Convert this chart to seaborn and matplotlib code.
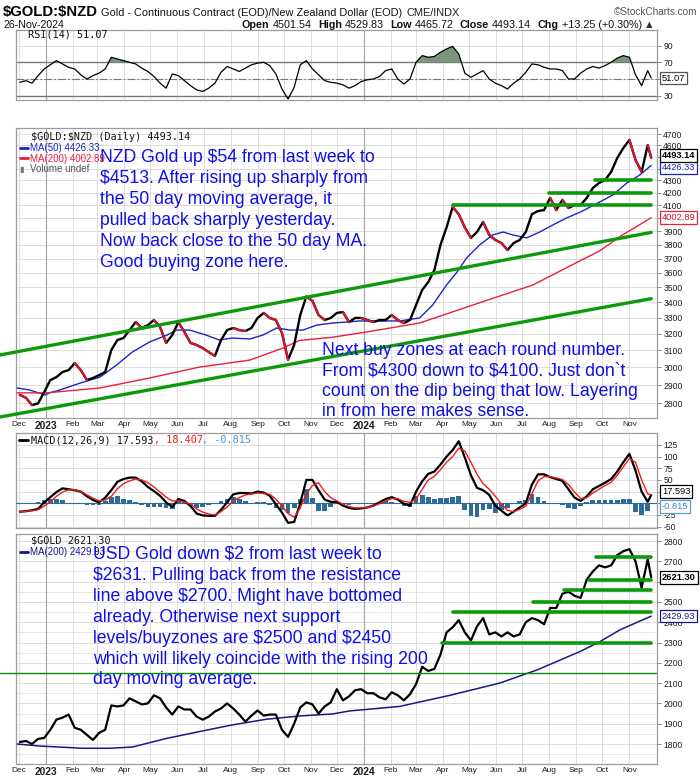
import numpy as np
import pandas as pd
import matplotlib
matplotlib.use("Agg")
import matplotlib.pyplot as plt
import matplotlib.ticker as mticker
import matplotlib.dates as mdates
from matplotlib import font_manager
import seaborn as sns

# ---------------- data ----------------
week_dates = list(pd.date_range("2022-12-02", periods=104, freq="7D")) + [pd.Timestamp("2024-11-26")]

nzd_close = [
    2846, 2830, 2790, 2800, 2862, 2928, 2945, 2974, 2985, 3025,
    2985, 2928, 2940, 2956, 2974, 3102, 3163, 3175, 3224, 3274,
    3237, 3255, 3287, 3243, 3145, 3193, 3274, 3212, 3145, 3133,
    3114, 3090, 3067, 3163, 3224, 3237, 3224, 3218, 3237, 3300,
    3332, 3300, 3287, 3206, 3045, 3133, 3319, 3440, 3410, 3319,
    3287, 3300, 3332, 3338, 3274, 3300, 3300, 3287, 3274, 3287,
    3287, 3319, 3287, 3268, 3287, 3383, 3483, 3536, 3619, 3798,
    3928, 4086, 4030, 3928, 3850, 3894, 3970, 3872, 3835, 3812,
    3761, 3812, 3835, 3894, 4030, 4054, 4062, 4158, 4062, 4142,
    4078, 4102, 4102, 4158, 4238, 4279, 4304, 4371, 4490, 4577,
    4649, 4473, 4371, 4603, 4493.14]

usd_close = [
    1810, 1815, 1800, 1825, 1830, 1870, 1920, 1930, 1945, 1880,
    1870, 1845, 1820, 1855, 1870, 1990, 1985, 1990, 2025, 2010,
    1995, 2000, 2040, 2025, 1980, 1945, 1985, 1970, 1970, 1935,
    1920, 1935, 1960, 1975, 2000, 1975, 1945, 1910, 1940, 1965,
    1940, 1945, 1945, 1870, 1835, 1900, 1980, 2005, 1995, 1950,
    1985, 2005, 2070, 2015, 2035, 2065, 2070, 2050, 2050, 2030,
    2020, 2055, 2040, 2015, 2045, 2095, 2180, 2160, 2170, 2240,
    2350, 2375, 2410, 2350, 2310, 2380, 2420, 2340, 2350, 2330,
    2350, 2330, 2340, 2400, 2420, 2410, 2390, 2470, 2470, 2540,
    2550, 2530, 2520, 2610, 2650, 2680, 2670, 2680, 2730, 2750,
    2760, 2700, 2570, 2710, 2621.30]

rsi_vals = [
    46, 48, 45, 54, 62, 67, 72, 68, 64, 62,
    55, 50, 54, 57, 62, 76, 74, 72, 70, 68,
    63, 59, 53, 45, 39, 56, 54, 48, 42, 37,
    35, 39, 45, 58, 65, 62, 59, 63, 67, 69,
    70, 66, 56, 38, 26, 40, 67, 72, 62, 55,
    48, 46, 45, 43, 39, 42, 47, 49, 50, 53,
    60, 62, 50, 44, 50, 70, 78, 76, 77, 82,
    86, 89, 80, 57, 52, 56, 60, 50, 45, 42,
    38, 45, 50, 58, 68, 67, 64, 62, 62, 60,
    50, 50, 57, 62, 65, 63, 66, 70, 75, 78,
    76, 55, 42, 60, 51.07]

macd_vals = [
    -18, -17, -15, -12, 2, 13, 24, 32, 30, 28,
    25, 15, 7, 2, 12, 28, 46, 52, 55, 55,
    47, 35, 26, 16, 2, -8, 9, 5, -6, -22,
    -26, -27, -27, -14, 2, 19, 22, 22, 21, 25,
    23, 16, -2, -20, -42, -40, 0, 50, 50, 28,
    8, 3, 3, -5, -10, -12, -11, -9, -5, 2,
    9, 13, 8, -1, -5, 25, 47, 63, 68, 83,
    100, 114, 133, 98, 60, 33, 28, 18, -5, -16,
    -26, -18, -9, 0, 40, 62, 62, 56, 52, 48,
    30, 12, 5, 15, 30, 37, 44, 52, 68, 88,
    106, 70, 25, 3, 17.593]

signal_vals = [
    -18, -17, -16, -14, -6, 3, 15, 24, 29, 29,
    25, 18, 11, 5, 7, 15, 31, 42, 48, 52,
    50, 44, 35, 24, 13, 5, 5, 3, -2, -12,
    -19, -23, -25, -18, -8, 5, 12, 18, 20, 22,
    21, 19, 9, -6, -22, -30, -10, 20, 38, 44,
    25, 12, 5, -2, -7, -10, -10, -9, -6, -1,
    5, 10, 10, 4, 2, 9, 30, 50, 58, 72,
    88, 100, 118, 112, 88, 62, 42, 30, 15, -2,
    -15, -18, -13, -6, 20, 48, 57, 57, 54, 51,
    40, 24, 10, 12, 22, 30, 38, 45, 60, 78,
    96, 88, 50, 20, 18.407]
hist_last = -0.815

nzd_ma50_dates = [
    "2022-11-29", "2022-12-13", "2022-12-31", "2023-01-05", "2023-01-17", "2023-02-09",
    "2023-03-04", "2023-03-23", "2023-04-10", "2023-04-30", "2023-05-20", "2023-05-31",
    "2023-06-15", "2023-07-04", "2023-07-19", "2023-08-03", "2023-08-23", "2023-09-07",
    "2023-09-23", "2023-10-08", "2023-10-23", "2023-11-08", "2023-11-26", "2023-12-12",
    "2023-12-27", "2024-02-11", "2024-03-05", "2024-03-20", "2024-04-05", "2024-04-17",
    "2024-04-28", "2024-05-13", "2024-05-28", "2024-06-09", "2024-06-20", "2024-07-06",
    "2024-07-21", "2024-08-05", "2024-08-21", "2024-09-08", "2024-09-28", "2024-10-13",
    "2024-10-29", "2024-11-13", "2024-11-26"]
nzd_ma50 = [
    2884, 2873, 2846, 2857, 2873, 2911, 2945, 3014, 3090, 3151,
    3193, 3224, 3224, 3193, 3163, 3175, 3169, 3193, 3237, 3224,
    3224, 3255, 3268, 3274, 3281, 3281, 3300, 3383, 3516, 3605,
    3704, 3798, 3872, 3894, 3872, 3850, 3894, 3947, 4001, 4054,
    4126, 4182, 4279, 4346, 4426.33]

nzd_ma200_dates = [
    "2022-11-29", "2023-01-02", "2023-03-04", "2023-04-30", "2023-06-26", "2023-08-23",
    "2023-09-30", "2023-10-19", "2023-11-26", "2024-01-04", "2024-03-05", "2024-05-05",
    "2024-07-13", "2024-09-05", "2024-09-28", "2024-10-21", "2024-11-13", "2024-11-26"]
nzd_ma200 = [2857, 2857, 2884, 2940, 3002, 3043, 3114, 3160, 3180, 3212,
             3268, 3383, 3516, 3683, 3755, 3860, 3950, 4002.89]

usd_ma200_dates = [
    "2022-11-29", "2022-12-25", "2023-02-12", "2023-03-15", "2023-04-10", "2023-05-20",
    "2023-06-26", "2023-08-03", "2023-09-11", "2023-10-19", "2023-11-26", "2023-12-16",
    "2024-02-11", "2024-04-09", "2024-06-05", "2024-07-18", "2024-09-05", "2024-09-28",
    "2024-10-21", "2024-11-26"]
usd_ma200 = [1800, 1790, 1779, 1779, 1785, 1828, 1861, 1894, 1922, 1938,
             1948, 1963, 1985, 2040, 2100, 2165, 2255, 2304, 2362, 2429.93]

channel_dates = ["2022-11-09", "2024-11-26"]
channel_low = [2727, 3425]
channel_high = [3073, 3891]
nzd_levels = [4100, 4200, 4300]
nzd_level_starts = ["2024-04-12", "2024-08-01", "2024-09-22"]
usd_levels = [2300, 2450, 2500, 2560, 2610, 2720]
usd_level_starts = ["2024-03-31", "2024-04-12", "2024-07-13", "2024-08-18", "2024-09-16", "2024-09-24"]
level_end = "2024-11-26"
usd_old_line = 2150
usd_old_line_dates = ["2022-11-09", "2024-12-02"]

nzd_ticks = list(range(2800, 4800, 100))
nzd_hidden = [4000, 4400, 4500]
usd_ticks = list(range(1800, 2900, 100))
usd_hidden = [2600]
macd_ticks = [-50, -25, 0, 25, 50, 75, 100, 125]
macd_hidden = [0, 25]
rsi_ticks = [30, 50, 70, 90]
rsi_hidden = [50]

nzd_note = ["NZD Gold up $54 from last week to",
            "$4513. After rising up sharply from",
            "the 50 day moving average, it",
            "pulled back sharply yesterday.",
            "Now back close to the 50 day MA.",
            "Good buying zone here."]
nzd_note2 = ["Next buy zones at each round number.",
             "From $4300 down to $4100. Just don`t",
             "count on the dip being that low. Layering",
             "in from here makes sense."]
usd_note = ["USD Gold down $2 from last week to",
            "$2631. Pulling back from the resistance",
            "line above $2700. Might have bottomed",
            "already. Otherwise next support",
            "levels/buyzones are $2500 and $2450",
            "which will likely coincide with the rising 200",
            "day moving average."]

# ---------------- style ----------------
sns.set_theme(style="white")
names = {f.name for f in font_manager.fontManager.ttflist}
NARROW_OK = "Liberation Sans Narrow" in names
NARROW = (["Liberation Sans Narrow", "Liberation Sans", "DejaVu Sans"] if NARROW_OK
          else ["Liberation Sans", "DejaVu Sans"])
NS = 1.0 if NARROW_OK else 0.86
SANS = ["Liberation Sans", "DejaVu Sans"]
MONO = ["DejaVu Sans Mono", "DejaVu Sans"]
plt.rcParams["font.family"] = SANS
plt.rcParams["text.parse_math"] = False

GREEN = "#0c9a0c"
BLUE_TXT = "#0f0fe6"
RED = "#dc1430"
MA50C = "#1a26c4"
NAVY = "#18188a"
HISTC = "#2d6b98"

W, H = 700, 780
L, R = 16, 657
XMIN = pd.Timestamp("2022-11-27 14:00")
XMAX = pd.Timestamp("2024-12-02 16:00")
month_starts = list(pd.date_range("2022-12-01", "2024-11-01", freq="MS"))
month_labels = [str(d.year) if d.month == 1 else d.strftime("%b") for d in month_starts]
year_starts = [pd.Timestamp("2023-01-01"), pd.Timestamp("2024-01-01")]

fig = plt.figure(figsize=(7, 7.8), dpi=100, facecolor="white")


def make_axes(y0, y1):
    return fig.add_axes([L / W, 1 - y1 / H, (R - L) / W, (y1 - y0) / H])


def fmt_hide(hidden):
    return mticker.FuncFormatter(lambda v, p: "" if any(abs(v - h) < 1e-6 for h in hidden) else f"{v:.0f}")


def finish(ax, show_x):
    ax.set_xlim(XMIN, XMAX)
    ax.set_xlabel("")
    ax.set_ylabel("")
    ax.set_axisbelow(True)
    for s in ax.spines.values():
        s.set_visible(True)
        s.set_color("#9c9c9c")
        s.set_linewidth(0.9)
    ax.yaxis.tick_right()
    ax.yaxis.set_minor_formatter(mticker.NullFormatter())
    ax.tick_params(axis="y", which="major", direction="out", length=3, width=0.7,
                   colors="#8a8a8a", labelcolor="#1e1e1e", labelsize=7.2 * NS, pad=1.5,
                   labelfontfamily=NARROW)
    ax.tick_params(axis="y", which="minor", length=0)
    ax.set_xticks(mdates.date2num(month_starts))
    if show_x:
        ax.set_xticklabels(month_labels, fontsize=7.0 * NS, family=NARROW, color="#1e1e1e")
        for t in ax.get_xticklabels():
            if t.get_text().isdigit():
                t.set_fontweight("bold")
                t.set_fontsize(8.6 * NS)
    else:
        ax.set_xticklabels([])
    ax.tick_params(axis="x", length=0, pad=2.0)
    ax.grid(True, which="major", color="#dcdcdc", lw=0.7)
    for d in year_starts:
        ax.axvline(d, color="#a9a9a9", lw=0.9, zorder=0.8)


def vbox(ax, y, text, ec, bold=False, tc="black", dy=0):
    ax.annotate(text, xy=(1, y), xycoords=ax.get_yaxis_transform(), xytext=(3.6, dy),
                textcoords="offset points", ha="left", va="center",
                fontsize=7.8 * NS, fontweight="bold" if bold else "normal", color=tc,
                family=NARROW, annotation_clip=False, zorder=40,
                bbox=dict(boxstyle="square,pad=0.2", fc="white", ec=ec, lw=0.9))


wk = pd.DataFrame({"date": week_dates, "nzd": nzd_close, "usd": usd_close,
                   "rsi": rsi_vals, "macd": macd_vals, "signal": signal_vals})
wk["hist"] = wk["macd"] - wk["signal"]
xnum = mdates.date2num(wk["date"])

# ---------------- RSI panel ----------------
ax_r = make_axes(30, 100)
sns.lineplot(data=wk, x="date", y="rsi", ax=ax_r, color="black", lw=0.9, estimator=None, zorder=4)
rs = np.array(rsi_vals, dtype=float)
ax_r.fill_between(xnum, rs, 70, where=rs >= 70, interpolate=True, color="#7c957c", lw=0, zorder=3)
ax_r.fill_between(xnum, rs, 30, where=rs <= 30, interpolate=True, color="#7c957c", lw=0, zorder=3)
ax_r.axhline(70, color="#777777", lw=1.0, zorder=2)
ax_r.axhline(30, color="#777777", lw=1.0, zorder=2)
ax_r.axhline(50, color="#777777", lw=0.8, ls=(0, (7, 2, 1.5, 2)), zorder=2)
ax_r.set_ylim(24.8, 108.7)
ax_r.set_yticks(rsi_ticks)
ax_r.yaxis.set_major_formatter(fmt_hide(rsi_hidden))
finish(ax_r, False)
vbox(ax_r, rsi_vals[-1], f"{rsi_vals[-1]:.2f}", "#555555")

# ---------------- NZD price panel ----------------
ax_p = make_axes(128, 418)
sns.lineplot(data=wk, x="date", y="nzd", ax=ax_p, color="black", lw=1.7, estimator=None, zorder=5)
for i in range(1, len(wk)):
    if nzd_close[i] < nzd_close[i - 1]:
        ax_p.plot(week_dates[i - 1:i + 1], nzd_close[i - 1:i + 1], color=RED, lw=1.5, zorder=5)
ma50 = pd.DataFrame({"date": pd.to_datetime(nzd_ma50_dates), "v": nzd_ma50})
ma200 = pd.DataFrame({"date": pd.to_datetime(nzd_ma200_dates), "v": nzd_ma200})
sns.lineplot(data=ma50, x="date", y="v", ax=ax_p, color=MA50C, lw=1.0, estimator=None, zorder=4)
sns.lineplot(data=ma200, x="date", y="v", ax=ax_p, color="#e8203c", lw=1.0, estimator=None, zorder=4)
cd = pd.to_datetime(channel_dates)
ax_p.plot(cd, channel_low, color=GREEN, lw=2.4, clip_on=False, zorder=6)
ax_p.plot(cd, channel_high, color=GREEN, lw=2.4, clip_on=False, zorder=6)
for lvl, st in zip(nzd_levels, nzd_level_starts):
    ax_p.plot([pd.Timestamp(st), pd.Timestamp(level_end)], [lvl, lvl], color=GREEN, lw=2.6, zorder=6)
ax_p.set_yscale("log")
ax_p.set_ylim(2722, 4757)
ax_p.set_yticks(nzd_ticks)
ax_p.yaxis.set_major_formatter(fmt_hide(nzd_hidden))
ax_p.yaxis.set_minor_locator(mticker.NullLocator())
finish(ax_p, True)
vbox(ax_p, nzd_ma200[-1], f"{nzd_ma200[-1]:.2f}", "#e8203c", tc="#d01030")
vbox(ax_p, nzd_ma50[-1], f"{nzd_ma50[-1]:.2f}", MA50C, tc=MA50C, dy=-1.5)
vbox(ax_p, nzd_close[-1], f"{nzd_close[-1]:.2f}", "black", bold=True, dy=1.5)

# ---------------- MACD panel ----------------
ax_m = make_axes(433, 528)
sns.lineplot(data=wk, x="date", y="macd", ax=ax_m, color="black", lw=1.6, estimator=None, zorder=5)
sns.lineplot(data=wk, x="date", y="signal", ax=ax_m, color="#ee1c1c", lw=1.0, estimator=None, zorder=6)
ax_m.bar(xnum, wk["hist"], width=5.4, color=HISTC, lw=0, zorder=3)
ax_m.axhline(0, color=HISTC, lw=0.8, zorder=3)
ax_m.set_ylim(-53, 150.6)
ax_m.set_yticks(macd_ticks)
ax_m.yaxis.set_major_formatter(fmt_hide(macd_hidden))
finish(ax_m, False)
vbox(ax_m, hist_last, f"{hist_last:.3f}", "#5a9ccc", tc="#3a86c0", dy=-2.2)
vbox(ax_m, macd_vals[-1], f"{macd_vals[-1]:.3f}", "black", dy=2.5)

# ---------------- USD panel ----------------
ax_u = make_axes(534, 764)
sns.lineplot(data=wk, x="date", y="usd", ax=ax_u, color="black", lw=1.6, estimator=None, zorder=5)
uma = pd.DataFrame({"date": pd.to_datetime(usd_ma200_dates), "v": usd_ma200})
sns.lineplot(data=uma, x="date", y="v", ax=ax_u, color=NAVY, lw=1.1, estimator=None, zorder=4)
ax_u.plot(pd.to_datetime(usd_old_line_dates), [usd_old_line] * 2, color="#0b8a0b", lw=1.0,
          clip_on=False, zorder=6)
for lvl, st in zip(usd_levels, usd_level_starts):
    ax_u.plot([pd.Timestamp(st), pd.Timestamp(level_end)], [lvl, lvl], color=GREEN, lw=2.6, zorder=6)
ax_u.set_ylim(1701.5, 2834.5)
ax_u.set_yticks(usd_ticks)
ax_u.yaxis.set_major_formatter(fmt_hide(usd_hidden))
ax_u.yaxis.set_minor_locator(mticker.MultipleLocator(50))
finish(ax_u, True)
ax_u.grid(True, which="minor", axis="y", color="#e4e4e4", lw=0.6)
vbox(ax_u, usd_ma200[-1], f"{usd_ma200[-1]:.2f}", NAVY, tc=NAVY)
vbox(ax_u, usd_close[-1], f"{usd_close[-1]:.2f}", "black", bold=True)

# ---------------- overlay texts (pixel coordinates) ----------------
axo = fig.add_axes([0, 0, 1, 1], zorder=50)
axo.set_xlim(0, W)
axo.set_ylim(H, 0)
axo.axis("off")


def chain(x, y, parts, size, family):
    t = axo.text(x, y, parts[0][0], fontsize=size, fontweight=parts[0][1], color=parts[0][2],
                 family=family, va="baseline", ha="left")
    for s, wgt, col, gap in parts[1:]:
        t = axo.annotate(s, xy=(1, 0), xycoords=t, xytext=(gap, 0), textcoords="offset points",
                         fontsize=size, fontweight=wgt, color=col, family=family,
                         va="bottom", ha="left")
    return t


# header
axo.text(3, 16, "$GOLD:$NZD", fontsize=12.5 * NS, fontweight="bold", family=NARROW,
         va="baseline", ha="left", color="black")
chain(101, 16, [("Gold - Continuous Contract (EOD)/New Zealand Dollar (EOD)", "normal", "#111", 0),
                ("CME/INDX", "normal", "#222", 3)], 9.2 * NS, NARROW)
axo.text(697, 15, "©StockCharts.com", fontsize=8.4 * NS, family=NARROW, color="#555555",
         va="baseline", ha="right")
axo.text(3, 28, "26-Nov-2024", fontsize=8.8 * NS, family=NARROW, color="#111",
         va="baseline", ha="left")
chain(242, 28, [("Open", "bold", "#111", 0), ("4501.54", "normal", "#111", 2.2),
                ("High", "bold", "#111", 4.5), ("4529.83", "normal", "#111", 2.2),
                ("Low", "bold", "#111", 4.5), ("4465.72", "normal", "#111", 2.2),
                ("Close", "bold", "#111", 4.5), ("4493.14", "normal", "#111", 2.2),
                ("Chg", "bold", "#111", 4.5), ("+13.25 (+0.30%)", "normal", "#111", 2.2),
                ("▲", "normal", "#333", 1.5)], 9.0 * NS, NARROW)

# panel legends
axo.text(28, 37.5, "RSI(14) 51.07", fontsize=7.4, family=MONO, color="#111", va="baseline")
axo.text(31, 140.5, "$GOLD:$NZD (Daily) 4493.14", fontsize=7.3, family=MONO, color="#111",
         va="baseline")
axo.plot([20, 28], [147.5, 147.5], color=MA50C, lw=2.0)
axo.text(29.5, 151, "MA(50) 4426.33", fontsize=7.0, family=SANS, color=MA50C, va="baseline")
axo.plot([20, 28], [158, 158], color="#e8203c", lw=2.0)
axo.text(29.5, 161.5, "MA(200) 4002.89", fontsize=7.0, family=SANS, color="#e8203c", va="baseline")
axo.text(19, 172, "▮", fontsize=6.0, family=["DejaVu Sans"], color="#777777", va="baseline")
axo.text(29.5, 172, "Volume undef", fontsize=7.0, family=SANS, color="#555555", va="baseline")
axo.plot([19, 28], [440, 440], color="black", lw=2.0)
chain(31, 443.5, [("MACD(12,26,9) 17.593", "normal", "#111", 0), (", 18.407", "normal", "#ee1c1c", 0),
                  (", -0.815", "normal", "#4a98d0", 0)], 7.3, MONO)
axo.text(31, 543.5, "$GOLD 2621.30", fontsize=7.3, family=MONO, color="#111", va="baseline")
axo.plot([20, 28], [551.5, 551.5], color=NAVY, lw=2.0)
axo.text(29.5, 555, "MA(200) 2429.93", fontsize=7.0, family=SANS, color=NAVY, va="baseline")

# annotations in blue
for i, line in enumerate(nzd_note):
    axo.text(100, 162.3 + i * 20.95, line, fontsize=12.7, family=SANS, color=BLUE_TXT, va="baseline")
for i, line in enumerate(nzd_note2):
    axo.text(322, 355 + i * 20.4, line, fontsize=12.7, family=SANS, color=BLUE_TXT, va="baseline")
for i, line in enumerate(usd_note):
    axo.text(93, 559 + i * 20.9, line, fontsize=12.7, family=SANS, color=BLUE_TXT, va="baseline")

fig.savefig("out.png", dpi=100, facecolor="white")
